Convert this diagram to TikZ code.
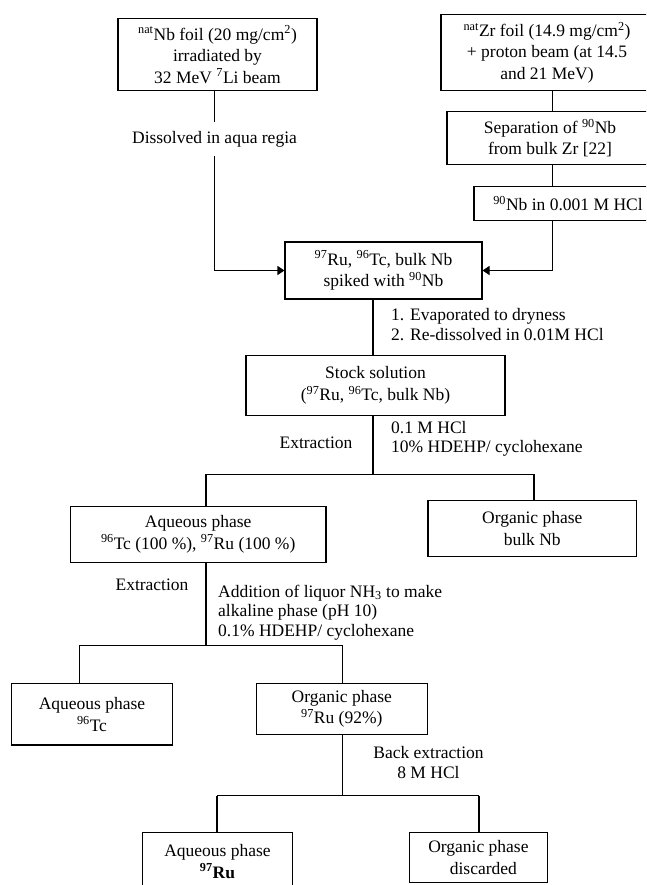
\documentclass[tikz,border=0pt]{standalone}
\usepackage{fontspec}
\setmainfont{Liberation Serif}
\usetikzlibrary{arrows.meta}
\newcommand{\bxfont}{\fontsize{17.5}{21.5}\selectfont}
\newcommand{\lbfont}{\fontsize{17.5}{19.5}\selectfont}
\newcommand{\sups}[1]{\textsuperscript{#1}}
\begin{document}
\begin{tikzpicture}[x=1pt,y=-1pt,
  box/.style={draw, line width=1.1pt, inner sep=0pt, align=center, font=\bxfont},
  lbl/.style={inner sep=0pt, font=\lbfont},
  conn/.style={line width=1.1pt},
  arr/.style={line width=1.1pt, -{Triangle[length=7pt,width=9pt]}}]
\clip (0,0) rectangle (646,885);
\fill[white] (0,0) rectangle (646,885);
% boxes
\node[box, minimum width=199pt, minimum height=71.6pt] (nb) at (217.5,54.5)
  {\sups{nat}Nb foil (20 mg/cm\sups{2})\\irradiated by\\32 MeV \sups{7}Li beam};
\node[box, minimum width=212pt, minimum height=75.3pt] (zr) at (547,52.6)
  {\sups{nat}Zr foil (14.9 mg/cm\sups{2})\\+ proton beam (at 14.5\\and 21 MeV)};
\node[box, minimum width=206pt, minimum height=53pt] (sep) at (550,138.2)
  {Separation of \sups{90}Nb\\from bulk Zr [22]};
\node[box, minimum width=188pt, minimum height=34pt] (nbh) at (568,203.7)
  {\sups{90}Nb in 0.001 M HCl};
\node[box, minimum width=197pt, minimum height=57pt] (ru) at (383.5,270.5)
  {\sups{97}Ru, \sups{96}Tc, bulk Nb\\spiked with \sups{90}Nb};
\node[box, minimum width=259pt, minimum height=59.3pt] (stock) at (375.5,385.4)
  {Stock solution\\(\sups{97}Ru, \sups{96}Tc, bulk Nb)};
\node[box, minimum width=255.5pt, minimum height=56.3pt] (aq1) at (198.2,534.2)
  {Aqueous phase\\\sups{96}Tc (100 \%), \sups{97}Ru (100 \%)};
\node[box, minimum width=208.6pt, minimum height=56pt] (org1) at (532.3,528.7)
  {Organic phase\\bulk Nb};
\node[box, minimum width=161pt, minimum height=61.3pt] (aq2) at (92,714.3)
  {Aqueous phase\\\sups{96}Tc};
\node[box, minimum width=171.5pt, minimum height=51.4pt] (org2) at (341.8,709)
  {Organic phase\\\sups{97}Ru (92\%)};
\node[box, minimum width=150.4pt, minimum height=57.3pt] (aq3) at (217.5,861.4)
  {Aqueous phase\\\textbf{\sups{97}Ru}};
\node[box, minimum width=138.7pt, minimum height=50pt] (org3) at (478.4,857.7)
  {Organic phase\\\hspace{10pt}discarded};
% labels
\node[lbl, minimum height=34pt] (dis) at (214.5,139) {Dissolved in aqua regia};
\node[lbl, align=left, anchor=west] (ev) at (391,324.5)
  {1. Evaporated to dryness\\2. Re-dissolved in 0.01M HCl};
\node[lbl] (ex1) at (316,442.7) {Extraction};
\node[lbl, align=left, anchor=west] (hc1) at (391,439)
  {0.1 M HCl\\10\% HDEHP/ cyclohexane};
\node[lbl] (ex2) at (152,585) {Extraction};
\node[lbl, align=left, anchor=west] (add) at (218,612.4)
  {Addition of liquor NH\textsubscript{3} to make\\alkaline phase (pH 10)\\0.1\% HDEHP/ cyclohexane};
\node[lbl, align=center] (back) at (428.5,762.7) {Back extraction\\8 M HCl};
% coordinates
\coordinate (rx) at (552.5,0);
\coordinate (cx) at (373,0);
\coordinate (b1) at (373,474.3);
\coordinate (b1l) at (206,474.3);
\coordinate (b1r) at (534,474.3);
\coordinate (b2) at (206,645.3);
\coordinate (b2l) at (79.5,645.3);
\coordinate (b2r) at (342.6,645.3);
\coordinate (b3) at (342.6,795.7);
\coordinate (b3l) at (217,795.7);
\coordinate (b3r) at (479,795.7);
% connectors
\draw[conn] (dis.north |- nb.south) -- (dis.north);
\draw[arr] (dis.south) |- (ru.west);
\draw[conn] (zr.south -| rx) -- (sep.north -| rx);
\draw[conn] (sep.south -| rx) -- (nbh.north -| rx);
\draw[arr] (nbh.south -| rx) |- (ru.east);
\draw[conn] (ru.south -| cx) -- (stock.north -| cx);
\draw[conn] (stock.south -| b1) -- (b1);
\draw[conn] (b1l) -- (b1r);
\draw[conn] (b1l) -- (aq1.north -| b1l);
\draw[conn] (b1r) -- (org1.north -| b1r);
\draw[conn] (aq1.south -| b2) -- (b2);
\draw[conn] (b2l) -- (b2r);
\draw[conn] (b2l) -- (aq2.north -| b2l);
\draw[conn] (b2r) -- (org2.north -| b2r);
\draw[conn] (org2.south -| b3) -- (b3);
\draw[conn] (b3l) -- (b3r);
\draw[conn] (b3l) -- (aq3.north -| b3l);
\draw[conn] (b3r) -- (org3.north -| b3r);
\end{tikzpicture}
\end{document}
